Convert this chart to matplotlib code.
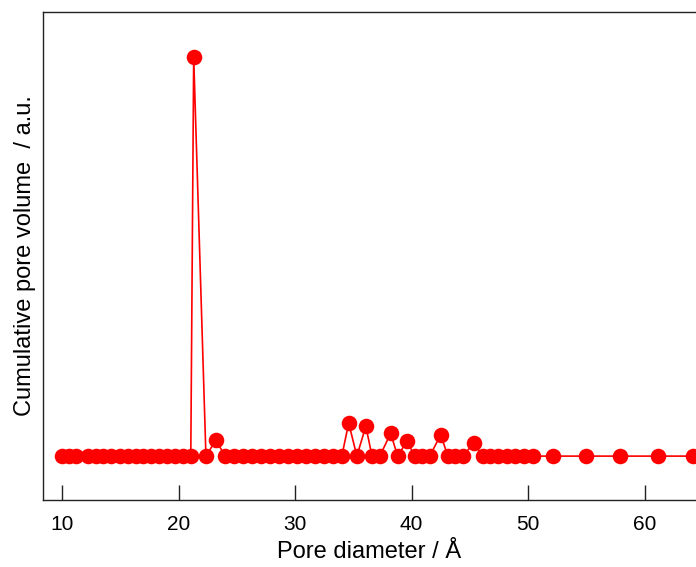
import matplotlib
matplotlib.use("Agg")
import matplotlib.pyplot as plt

# Pore diameter (Å) and cumulative pore volume (a.u.)
pore_diameter = [10.0, 10.6, 11.2, 12.2, 12.9, 13.5, 14.2, 15.0, 15.7, 16.35, 16.95,
                 17.6, 18.3, 19.0, 19.7, 20.4, 21.05, 21.3, 22.35, 23.2,
                 24.0, 24.77, 25.54, 26.31, 27.08, 27.85, 28.62, 29.39, 30.16,
                 30.93, 31.7, 32.47, 33.24, 34.01, 34.6, 35.3, 36.07, 36.6, 37.27,
                 38.2, 38.8, 39.6, 40.27, 40.87, 41.56, 42.5, 43.1, 43.7, 44.4,
                 45.33, 46.1, 46.7, 47.4, 48.2, 48.85, 49.6, 50.4, 52.1, 55.0,
                 57.9, 61.1, 64.1]
pore_volume = [0, 0, 0, 0, 0, 0, 0, 0, 0, 0, 0,
               0, 0, 0, 0, 0, 0, 1.0, 0, 0.04,
               0, 0, 0, 0, 0, 0, 0, 0, 0,
               0, 0, 0, 0, 0, 0.083, 0, 0.075, 0, 0,
               0.057, 0, 0.037, 0, 0, 0, 0.054, 0, 0, 0,
               0.033, 0, 0, 0, 0, 0, 0, 0, 0, 0,
               0, 0, 0]
x_ticks = [10, 20, 30, 40, 50, 60]

plt.rcParams['font.family'] = ['Liberation Sans', 'DejaVu Sans']

fig = plt.figure(figsize=(6.96, 5.67), dpi=100)
ax = fig.add_axes([43/696, 67/567, 1 - 43/696, 488/567])

ax.plot(pore_diameter, pore_volume, color='#ff0000', lw=1.2, marker='o',
        markersize=11.2, markeredgewidth=0)

ax.set_xlim(8.37, 64.4)
ax.set_ylim(-0.11, 1.113)
ax.set_xticks(x_ticks)
ax.set_yticks([])
ax.tick_params(axis='x', direction='in', length=11, width=1.0, pad=11,
               labelsize=15, color='#222222')
for s in ['left', 'bottom', 'top']:
    ax.spines[s].set_linewidth(1.0)
    ax.spines[s].set_color('#222222')
ax.spines['right'].set_visible(False)

ax.set_xlabel('Pore diameter / Å', fontsize=17, labelpad=5)
ax.set_ylabel('Cumulative pore volume  / a.u.', fontsize=17, labelpad=5)

fig.savefig('out.png', dpi=100)
